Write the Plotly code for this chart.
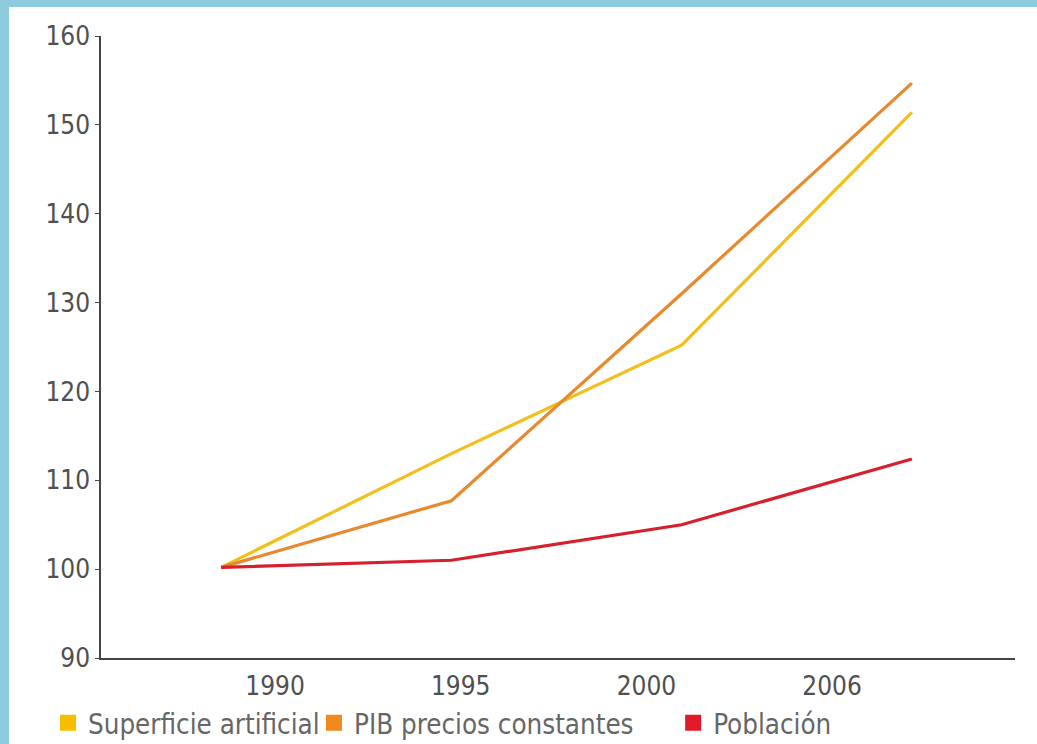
import plotly.graph_objects as go

years = ["1990", "1995", "2000", "2006"]
superficie = [100.2, 113.0, 125.2, 151.4]
pib = [100.2, 107.7, 131.0, 154.7]
poblacion = [100.2, 101.0, 105.0, 112.4]

series_names = ["Superficie artificial", "PIB precios constantes", "Población"]
line_colors = ["#f2bf1c", "#e8892e", "#d6202e"]
legend_colors = ["#f5bf00", "#f08a1c", "#e01a2a"]
legend_ids = ["legend", "legend2", "legend3"]
legend_x = [-0.058, 0.233, 0.626]

FONT = "DejaVu Sans Condensed, Liberation Sans Narrow, sans-serif"
idx = list(range(len(years)))

fig = go.Figure()
for name, vals, lc in zip(series_names, [superficie, pib, poblacion], line_colors):
    fig.add_trace(go.Scatter(x=idx, y=vals, mode="lines", line=dict(color=lc, width=3.2),
                             showlegend=False, hoverinfo="skip"))
for name, c, lg in zip(series_names, legend_colors, legend_ids):
    fig.add_trace(go.Scatter(x=[None], y=[None], mode="markers", name=name, legend=lg,
                             marker=dict(symbol="square", size=16, color=c)))
# carrier for the label axis
fig.add_trace(go.Scatter(x=idx, y=[None] * len(idx), xaxis="x2", mode="lines",
                         showlegend=False, hoverinfo="skip"))

legend_style = dict(orientation="h", xanchor="left", y=-0.1045, yanchor="middle",
                    font=dict(size=27.5, color="#666666"), itemwidth=30,
                    bgcolor="rgba(0,0,0,0)")

fig.update_layout(
    width=1037, height=744,
    margin=dict(l=101, r=22, t=36, b=86, autoexpand=False),
    paper_bgcolor="white", plot_bgcolor="white",
    font=dict(family=FONT, color="#555555"),
    xaxis=dict(range=[-0.522, 3.448], showline=True, linecolor="#444444", linewidth=1.5,
               showgrid=False, zeroline=False, showticklabels=False, ticks=""),
    xaxis2=dict(overlaying="x", anchor="y", side="bottom", range=[-0.937, 3.985],
                tickvals=idx, ticktext=years, showgrid=False, zeroline=False, showline=False,
                ticks="", ticklabelstandoff=10, tickfont=dict(size=26, color="#505050")),
    yaxis=dict(range=[90, 160], dtick=10, tick0=90, showline=True, linecolor="#444444",
               linewidth=1.5, ticks="outside", ticklen=4, tickcolor="#444444",
               showgrid=False, zeroline=False, tickfont=dict(size=26, color="#505050")),
    legend=dict(x=legend_x[0], **legend_style),
    legend2=dict(x=legend_x[1], **legend_style),
    legend3=dict(x=legend_x[2], **legend_style),
    shapes=[
        dict(type="rect", xref="paper", yref="paper", x0=-0.2, x1=-0.1007, y0=-0.3, y1=1.2,
             fillcolor="#8fcbdf", line=dict(width=0), layer="below"),
        dict(type="rect", xref="paper", yref="paper", x0=-0.2, x1=1.1, y0=1.0466, y1=1.2,
             fillcolor="#8fcbdf", line=dict(width=0), layer="below"),
    ],
)

fig.write_html("out.html")
